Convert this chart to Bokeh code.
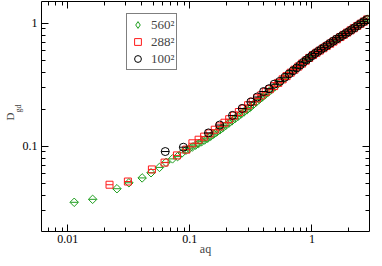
import numpy as np
from bokeh.plotting import figure
from bokeh.models import (Range1d, LogAxis, FixedTicker, Legend, LegendItem,
                          CustomJSTickFormatter)
from bokeh.embed import file_html
from bokeh.resources import INLINE

# ---- data ----
q_560 = [0.0113, 0.0160, 0.0253, 0.0317, 0.0407, 0.0481, 0.0564, 0.0638, 0.0721, 0.0794, 0.0865, 0.0930,
         0.0988, 0.105, 0.1115, 0.118, 0.125, 0.132, 0.140, 0.148, 0.157, 0.166, 0.176, 0.186, 0.197,
         0.209, 0.221, 0.234, 0.248, 0.263, 0.278, 0.295, 0.312, 0.330, 0.350, 0.371, 0.393, 0.416,
         0.44, 0.466, 0.494, 0.523, 0.554, 0.587, 0.622, 0.659, 0.698, 0.739, 0.783, 0.83, 0.879,
         0.931, 0.986, 1.045, 1.107, 1.172, 1.242, 1.315, 1.393, 1.476, 1.563, 1.656, 1.754, 1.858,
         1.968, 2.085, 2.208, 2.339, 2.478, 2.625, 2.78, 2.86]
D_560 = [0.0349, 0.0369, 0.0450, 0.0503, 0.0551, 0.0607, 0.0671, 0.0737, 0.0787, 0.0821, 0.0882, 0.0926,
         0.0951, 0.0984, 0.1018, 0.1051, 0.1086, 0.1120, 0.1158, 0.1202, 0.1252, 0.1302, 0.1356, 0.1412, 0.1473,
         0.1539, 0.1603, 0.1673, 0.1746, 0.1823, 0.1898, 0.1982, 0.2065, 0.2176, 0.2287, 0.2398, 0.2513, 0.2632,
         0.2754, 0.2885, 0.3024, 0.3182, 0.3353, 0.3535, 0.3727, 0.3903, 0.4085, 0.4273, 0.4472, 0.4686, 0.4902,
         0.5130, 0.5370, 0.5592, 0.5805, 0.6026, 0.6257, 0.6496, 0.6745, 0.7004, 0.7273, 0.7551, 0.7839, 0.8141,
         0.8455, 0.8777, 0.9113, 0.9463, 0.9826, 1.0202, 1.0590, 1.0789]

q_288 = [0.0220, 0.0311, 0.0489, 0.0621, 0.0784, 0.0935,
         0.105, 0.118, 0.131, 0.145, 0.160, 0.175, 0.192, 0.210, 0.230, 0.252, 0.275, 0.300, 0.327,
         0.355, 0.385, 0.418, 0.452, 0.49, 0.53, 0.575, 0.62, 0.67, 0.72, 0.775, 0.83, 0.89, 0.95,
         1.02, 1.09, 1.16, 1.24, 1.32, 1.41, 1.50, 1.60, 1.71, 1.82, 1.94, 2.07, 2.20, 2.35, 2.50,
         2.66, 2.83]
D_288 = [0.0485, 0.0515, 0.0646, 0.0734, 0.0840, 0.0936,
         0.1054, 0.1127, 0.1194, 0.1269, 0.1359, 0.1446, 0.1549, 0.1655, 0.1770, 0.1893, 0.2018, 0.2151, 0.2301,
         0.2449, 0.2588, 0.2748, 0.2904, 0.3076, 0.3266, 0.3491, 0.3707, 0.3954, 0.4183, 0.4437, 0.4686, 0.4952, 0.5215,
         0.5501, 0.5745, 0.5984, 0.6252, 0.6512, 0.6800, 0.7079, 0.7384, 0.7709, 0.8031, 0.8373, 0.8734, 0.9091, 0.9491, 0.9881,
         1.0291, 1.0715]

q_100 = [0.0629, 0.0885, 0.142, 0.1756, 0.2237, 0.2683, 0.316, 0.357, 0.402, 0.445, 0.491, 0.545,
         0.60, 0.65, 0.70, 0.75, 0.80, 0.85, 0.90, 0.95, 1.0, 1.059, 1.122, 1.189, 1.259, 1.334, 1.413,
         1.496, 1.585, 1.679, 1.778, 1.884, 1.995, 2.113, 2.239, 2.371, 2.512, 2.661, 2.818]
D_100 = [0.0903, 0.0979, 0.128, 0.1484, 0.1776, 0.2024, 0.2284, 0.251, 0.278, 0.293, 0.319, 0.336,
         0.363, 0.387, 0.410, 0.432, 0.456, 0.480, 0.502, 0.522, 0.543, 0.566, 0.589, 0.612, 0.635, 0.661, 0.687,
         0.714, 0.741, 0.767, 0.794, 0.822, 0.851, 0.884, 0.918, 0.955, 0.993, 1.030, 1.069]

labels = ["560\u00b2", "288\u00b2", "100\u00b2"]
x_label = "aq"
y_label = "D"
y_sub = "gd"

x_major = [0.01, 0.1, 1]
x_major_labels = ["0.01", "0.1", "1"]
x_minor = [0.007, 0.008, 0.009, 0.02, 0.03, 0.04, 0.05, 0.06, 0.07, 0.08, 0.09,
           0.2, 0.3, 0.4, 0.5, 0.6, 0.7, 0.8, 0.9, 2, 3]
y_major = [0.1, 1]
y_major_labels = ["0.1", "1"]
y_minor = [0.03, 0.04, 0.05, 0.06, 0.07, 0.08, 0.09, 0.2, 0.3, 0.4, 0.5, 0.6, 0.7, 0.8, 0.9]

SERIF = "Liberation Serif"

p = figure(width=374, height=258, x_axis_type="log", y_axis_type="log",
           x_range=Range1d(0.0061, 2.96), y_range=Range1d(0.0202, 1.50),
           output_backend="svg", toolbar_location=None,
           min_border_left=37, min_border_right=5, min_border_top=1, min_border_bottom=26)
p.xgrid.visible = False
p.ygrid.visible = False
p.outline_line_color = None
p.background_fill_color = "white"
p.border_fill_color = "white"

def style_axis(ax, major, minor, major_labels=None):
    ax.ticker = FixedTicker(ticks=major, minor_ticks=minor)
    ax.axis_line_color = "black"
    ax.axis_line_width = 1
    ax.major_tick_in = 7
    ax.major_tick_out = 0
    ax.minor_tick_in = 4
    ax.minor_tick_out = 0
    ax.major_tick_line_color = "black"
    ax.minor_tick_line_color = "black"
    ax.major_label_text_font = SERIF
    ax.major_label_text_color = "black"
    ax.major_label_text_font_size = "12px"
    if major_labels is not None:
        ax.major_label_overrides = {m: s for m, s in zip(major, major_labels)}
        ax.major_label_standoff = 4
    else:
        ax.formatter = CustomJSTickFormatter(code="return '';")
        ax.major_label_standoff = 0

style_axis(p.xaxis[0], x_major, x_minor, x_major_labels)
style_axis(p.yaxis[0], y_major, y_minor, y_major_labels)
p.xaxis[0].major_label_standoff = 3
p.xaxis[0].axis_label = x_label
p.xaxis[0].axis_label_text_font = SERIF
p.xaxis[0].axis_label_text_font_size = "12px"
p.xaxis[0].axis_label_text_font_style = "normal"
p.xaxis[0].axis_label_standoff = -4

# inner left axis carries the subscript (shifted up with no-break spaces)
p.yaxis[0].axis_label = "\u00a0" * 8 + y_sub
p.yaxis[0].axis_label_text_font = SERIF
p.yaxis[0].axis_label_text_font_size = "8px"
p.yaxis[0].axis_label_text_font_style = "normal"
p.yaxis[0].axis_label_standoff = -3

# outer left axis carries the main symbol
outer = LogAxis(ticker=FixedTicker(ticks=[], minor_ticks=[]))
outer.axis_line_color = None
outer.major_tick_line_color = None
outer.minor_tick_line_color = None
outer.major_label_standoff = 0
outer.axis_label = y_label
outer.axis_label_text_font = SERIF
outer.axis_label_text_font_size = "11px"
outer.axis_label_text_font_style = "normal"
outer.axis_label_standoff = -5
p.add_layout(outer, "left")

top = LogAxis()
right = LogAxis()
style_axis(top, x_major, x_minor)
style_axis(right, y_major, y_minor)
p.add_layout(top, "above")
p.add_layout(right, "right")

green = "#1e9e1e"
red = "#ff1a1a"

p.scatter(q_560, D_560, marker="square", angle=np.pi / 4, size=6, fill_color=None,
          line_color=green, line_width=1)
p.scatter(q_560, D_560, marker="dash", size=8, line_color=green, line_width=1)
r = p.scatter(q_288, D_288, marker="square", size=7, fill_color=None,
              line_color=red, line_width=1)
p.scatter(q_288, D_288, marker="dash", size=7, line_color=red, line_width=1)
b = p.scatter(q_100, D_100, marker="circle", size=8, fill_color=None,
              line_color="black", line_width=1)
p.scatter(q_100, D_100, marker="dash", size=8, line_color="black", line_width=1)
# legend glyph for the diamond series (zero size in the plot itself)
g_leg = p.scatter(q_560, D_560, marker="diamond", size=0, fill_color=None,
                  line_color=green, line_width=1)

legend = Legend(items=[LegendItem(label=labels[0], renderers=[g_leg]),
                       LegendItem(label=labels[1], renderers=[r]),
                       LegendItem(label=labels[2], renderers=[b])],
                location=(85, 161), orientation="vertical",
                border_line_color="black", border_line_width=1,
                background_fill_color="white", background_fill_alpha=1,
                label_text_font=SERIF, label_text_font_size="13px",
                glyph_width=17, glyph_height=17, label_height=17,
                spacing=0, padding=2, margin=0, label_standoff=5)
p.add_layout(legend)

open("out.html", "w").write(file_html(p, INLINE))
